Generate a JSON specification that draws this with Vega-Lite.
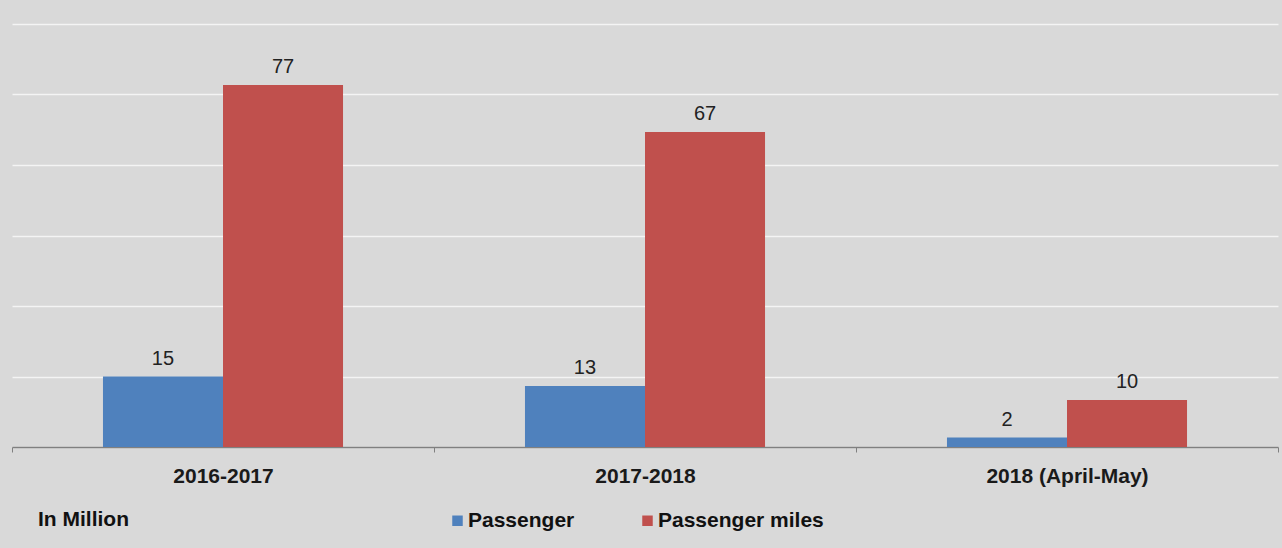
{
  "$schema": "https://vega.github.io/schema/vega-lite/v6.json",
  "width": 1266,
  "height": 423,
  "autosize": {"type": "none"},
  "padding": {"left": 12, "top": 24, "right": 4, "bottom": 101},
  "background": "#D9D9D9",
  "config": {"view": {"stroke": null}, "font": "Liberation Sans"},
  "data": {"values": [
    {"period": "2016-2017", "series": "Passenger", "value": 15},
    {"period": "2016-2017", "series": "Passenger miles", "value": 77},
    {"period": "2017-2018", "series": "Passenger", "value": 13},
    {"period": "2017-2018", "series": "Passenger miles", "value": 67},
    {"period": "2018 (April-May)", "series": "Passenger", "value": 2},
    {"period": "2018 (April-May)", "series": "Passenger miles", "value": 10}
  ]},
  "encoding": {
    "x": {
      "field": "period", "type": "nominal",
      "sort": ["2016-2017", "2017-2018", "2018 (April-May)"],
      "scale": {"paddingInner": 0, "paddingOuter": 0},
      "axis": {
        "title": null, "labelAngle": 0, "tickBand": "extent", "tickSize": 5,
        "tickColor": "#808080", "domainColor": "#808080", "domainWidth": 1.5,
        "labelFontSize": 21, "labelFontWeight": "bold", "labelColor": "#1a1a1a",
        "labelPadding": 13, "grid": false
      }
    },
    "xOffset": {
      "field": "series", "type": "nominal",
      "sort": ["Passenger", "Passenger miles"],
      "scale": {"paddingInner": 0, "paddingOuter": 0.758}
    },
    "y": {
      "field": "value", "type": "quantitative",
      "scale": {"domain": [0, 90], "nice": false},
      "axis": {
        "values": [0, 15, 30, 45, 60, 75, 90], "labels": false, "ticks": false,
        "domain": false, "title": null, "gridColor": "#F4F4F4", "gridWidth": 1.5, "gridOpacity": 1
      }
    }
  },
  "layer": [
    {
      "mark": {"type": "bar"},
      "encoding": {
        "color": {
          "field": "series", "type": "nominal",
          "scale": {"domain": ["Passenger", "Passenger miles"], "range": ["#4F81BD", "#C0504D"]},
          "legend": {
            "title": "In Million", "orient": "none", "legendX": 26, "legendY": 486,
            "direction": "horizontal", "titleOrient": "left", "titlePadding": 318,
            "symbolType": "square", "symbolSize": 110, "symbolStrokeWidth": 0,
            "labelFontSize": 21, "labelFontWeight": "bold", "labelColor": "#111",
            "titleFontSize": 21, "titleFontWeight": "bold", "titleColor": "#111",
            "columnPadding": 62, "labelOffset": 0, "labelLimit": 300
          }
        }
      }
    },
    {
      "mark": {"type": "text", "baseline": "alphabetic", "dy": -12, "fontSize": 20, "color": "#222"},
      "encoding": {"text": {"field": "value", "type": "quantitative"}}
    }
  ]
}
